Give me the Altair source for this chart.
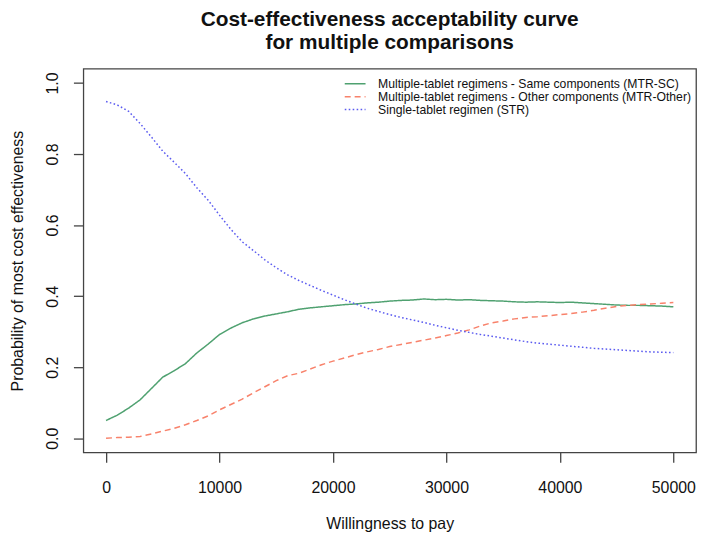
import altair as alt
import pandas as pd

# Willingness to pay (x values)
wtp = list(range(0, 50001, 1000))

# Multiple-tablet regimens - Same components (MTR-SC)
mtr_sc = [0.050, 0.065, 0.085, 0.108, 0.140, 0.172, 0.190, 0.210, 0.240, 0.265,
          0.292, 0.310, 0.325, 0.336, 0.344, 0.350, 0.356, 0.363, 0.367, 0.370,
          0.373, 0.376, 0.378, 0.381, 0.383, 0.386, 0.388, 0.389, 0.392, 0.390,
          0.391, 0.389, 0.390, 0.388, 0.387, 0.386, 0.384, 0.383, 0.384, 0.383,
          0.382, 0.383, 0.381, 0.379, 0.377, 0.375, 0.374, 0.374, 0.373, 0.372,
          0.370]

# Multiple-tablet regimens - Other components (MTR-Other)
mtr_other = [0.000, 0.002, 0.003, 0.005, 0.012, 0.020, 0.028, 0.038, 0.050, 0.063,
             0.080, 0.095, 0.110, 0.128, 0.145, 0.162, 0.176, 0.183, 0.195, 0.207,
             0.217, 0.226, 0.235, 0.243, 0.250, 0.258, 0.264, 0.270, 0.276, 0.282,
             0.289, 0.296, 0.305, 0.316, 0.325, 0.330, 0.336, 0.340, 0.342, 0.345,
             0.348, 0.351, 0.355, 0.360, 0.366, 0.371, 0.374, 0.376, 0.378, 0.380,
             0.382]

# Single-tablet regimen (STR)
str_reg = [0.948, 0.938, 0.920, 0.886, 0.848, 0.808, 0.777, 0.745, 0.705, 0.670,
           0.628, 0.588, 0.553, 0.528, 0.502, 0.480, 0.460, 0.444, 0.430, 0.416,
           0.403, 0.390, 0.378, 0.366, 0.357, 0.348, 0.340, 0.333, 0.326, 0.318,
           0.311, 0.304, 0.298, 0.292, 0.287, 0.282, 0.277, 0.272, 0.268, 0.265,
           0.262, 0.259, 0.256, 0.253, 0.251, 0.249, 0.247, 0.245, 0.243, 0.242,
           0.241]

series_names = [
    "Multiple-tablet regimens - Same components (MTR-SC)",
    "Multiple-tablet regimens - Other components (MTR-Other)",
    "Single-tablet regimen (STR)",
]
series_colors = ["#4fa170", "#f8826b", "#5b5bf0"]
series_dashes = [[1, 0], [6, 4], [1.6, 2.4]]

x_ticks = [0, 10000, 20000, 30000, 40000, 50000]
y_ticks = [0.0, 0.2, 0.4, 0.6, 0.8, 1.0]

rows = []
for name, vals in zip(series_names, [mtr_sc, mtr_other, str_reg]):
    for w, v in zip(wtp, vals):
        rows.append({"wtp": w, "prob": v, "series": name})
df = pd.DataFrame(rows)

FONT = "Liberation Sans"

legend = alt.Legend(
    title=None, orient="none", legendX=268, legendY=9,
    symbolType="M-2,0H2", symbolSize=110, symbolStrokeWidth=1.5,
    labelFontSize=12.3, labelFont=FONT, labelColor="#111", labelLimit=500,
    labelOffset=17, rowPadding=0, padding=0,
)

chart = alt.Chart(df).mark_line(strokeWidth=1.5).encode(
    x=alt.X("wtp:Q",
            scale=alt.Scale(domain=[-2000, 52000], nice=False, zero=False),
            axis=alt.Axis(values=x_ticks, format="d", title="Willingness to pay",
                          titleY=77, titleX=309, titleBaseline="alphabetic",
                          labelPadding=17, tickSize=10, domain=False, grid=False,
                          labelFlush=False)),
    y=alt.Y("prob:Q",
            scale=alt.Scale(domain=[-0.04, 1.04], nice=False, zero=False),
            axis=alt.Axis(values=y_ticks, format=".1f",
                          title="Probability of most cost effectiveness",
                          labelAngle=270, labelAlign="center", labelBaseline="bottom",
                          labelPadding=13, tickSize=10, domain=False, grid=False,
                          titleX=-61, titleY=193.5, titleAngle=270,
                          titleBaseline="alphabetic", titleAlign="center",
                          labelFlush=False)),
    color=alt.Color("series:N", scale=alt.Scale(domain=series_names, range=series_colors),
                    sort=series_names, legend=legend),
    strokeDash=alt.StrokeDash("series:N", scale=alt.Scale(domain=series_names, range=series_dashes),
                              sort=series_names, legend=legend),
).properties(
    width=618,
    height=387,
    autosize=alt.AutoSizeParams(type="none"),
    padding={"left": 76, "top": 59, "right": 5, "bottom": 85},
    title=alt.TitleParams(
        text=["Cost-effectiveness acceptability curve", "for multiple comparisons"],
        font=FONT, fontSize=21, fontWeight="bold", color="#111",
        anchor="middle", frame="group", offset=16, lineHeight=23,
    ),
).configure_view(
    stroke="#444", strokeWidth=1.3
).configure_axis(
    labelFont=FONT, titleFont=FONT, labelFontSize=16, titleFontSize=16,
    labelColor="#111", titleColor="#111", titleFontWeight="normal",
    tickColor="#444", tickWidth=1.3,
)

chart.save("out.html", embed_options={"renderer": "svg", "actions": False})
